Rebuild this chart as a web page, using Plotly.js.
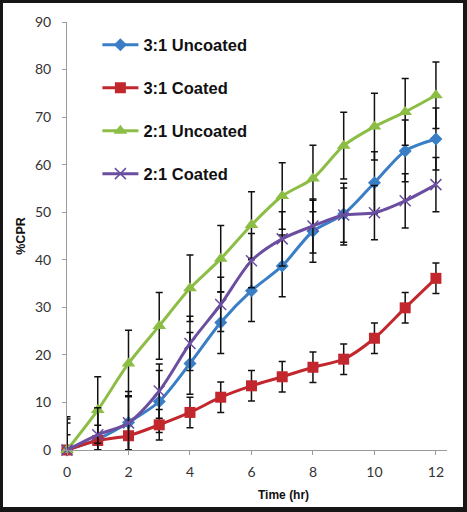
<!DOCTYPE html>
<html>
<head>
<meta charset="utf-8">
<script src="https://cdn.plot.ly/plotly-3.0.1.min.js"></script>
<style>
  html, body { margin: 0; padding: 0; background: #fff; }
  #wrap { position: relative; width: 467px; height: 512px; }
  #chart { width: 467px; height: 512px; }
  #frame { position: absolute; left: 0; top: 0; width: 467px; height: 512px; box-sizing: border-box;
           border-style: solid; border-color: #161616; border-width: 3px 4px 5px 3px; pointer-events: none; }
</style>
</head>
<body>
<div id="wrap"><div id="chart"></div><div id="frame"></div></div>
<script>
// Time points (hr)
const time = [0, 1, 2, 3, 4, 5, 6, 7, 8, 9, 10, 11, 12];

// %CPR values
const uncoated31 = [0, 2.3, 5.8, 10.2, 18.2, 26.8, 33.5, 38.7, 46.0, 49.6, 56.2, 62.9, 65.4];
const coated31   = [0, 2.0, 3.0, 5.3, 7.9, 11.1, 13.5, 15.4, 17.4, 19.1, 23.5, 29.9, 36.1];
const uncoated21 = [0, 8.4, 18.2, 26.1, 34.0, 40.2, 47.3, 53.4, 57.1, 64.0, 68.0, 71.1, 74.6];
const coated21   = [0, 3.2, 5.7, 12.4, 22.4, 30.6, 39.8, 44.4, 47.1, 49.4, 49.9, 52.4, 55.8];

// error bar sizes (constant per series)
const err31U = 6.5, err31C = 3.2, err21U = 7.0, err21C = 5.7;

const names = ['3:1 Uncoated', '3:1 Coated', '2:1 Uncoated', '2:1 Coated'];
const yTicks = [0, 10, 20, 30, 40, 50, 60, 70, 80, 90];
const xTicks = [0, 2, 4, 6, 8, 10, 12];

function mk(name, ys, err, color, symbol, size, group) {
  return {
    type: 'scatter', mode: 'lines+markers', name: name, x: time, y: ys,
    legendgroup: group,
    line: { color: color, width: 3, shape: 'spline', smoothing: 0.8 },
    marker: { color: color, symbol: symbol, size: size,
              line: { color: color, width: symbol === 'x-thin' ? 1.5 : 0 } },
    error_y: { type: 'data', symmetric: false,
               array: ys.map(() => err),
               arrayminus: ys.map(v => Math.min(err, v)),
               color: '#111', thickness: 1.5, width: 3.5 },
    cliponaxis: false
  };
}

const data = [
  mk(names[0], uncoated31, err31U, '#3a7ec6', 'diamond', 10, 'a'),
  mk(names[1], coated31, err31C, '#c1272d', 'square', 11, 'b'),
  mk(names[2], uncoated21, err21U, '#8cbd45', 'triangle-up', 12, 'c'),
  mk(names[3], coated21, err21C, '#6b4ea0', 'x-thin', 11, 'd')
];

const layout = {
  width: 467, height: 512,
  margin: { l: 67, r: 20, t: 22, b: 62 },
  paper_bgcolor: '#ffffff', plot_bgcolor: '#ffffff',
  showlegend: true,
  legend: {
    x: 0.08, y: 0.987, xanchor: 'left', yanchor: 'top',
    bgcolor: 'rgba(0,0,0,0)', borderwidth: 0,
    font: { family: 'Liberation Sans, Arial, sans-serif', size: 16.5, color: '#111', weight: 'bold' },
    tracegroupgap: 18.5, itemwidth: 36
  },
  xaxis: {
    range: [0, 12.36], tickvals: xTicks, ticktext: xTicks.map(String),
    showgrid: false, zeroline: false, showline: true, linecolor: '#9a9a9a', linewidth: 1,
    ticks: 'outside', ticklen: 4, tickcolor: '#9a9a9a',
    tickfont: { family: 'Lato, Open Sans, sans-serif', size: 14, color: '#333' },
    ticklabelstandoff: 5
  },
  yaxis: {
    range: [0, 90], tickvals: yTicks, ticktext: yTicks.map(String),
    showgrid: false, zeroline: false, showline: true, linecolor: '#9a9a9a', linewidth: 1,
    ticks: 'outside', ticklen: 4, tickcolor: '#9a9a9a',
    tickfont: { family: 'Lato, Open Sans, sans-serif', size: 14, color: '#333' },
    ticklabelstandoff: 8,
    title: { text: '<b>%CPR</b>', font: { family: 'Liberation Sans, Arial, sans-serif', size: 12.5, color: '#111' }, standoff: 6 }
  },
  annotations: [{
    text: '<b>Time (hr)</b>', xref: 'paper', yref: 'paper',
    x: 0.57, y: -0.085, xanchor: 'center', yanchor: 'top', showarrow: false,
    font: { family: 'Liberation Sans, Arial, sans-serif', size: 12, color: '#111' }
  }]
};

Plotly.newPlot('chart', data, layout, { displayModeBar: false, staticPlot: true });
</script>
</body>
</html>
